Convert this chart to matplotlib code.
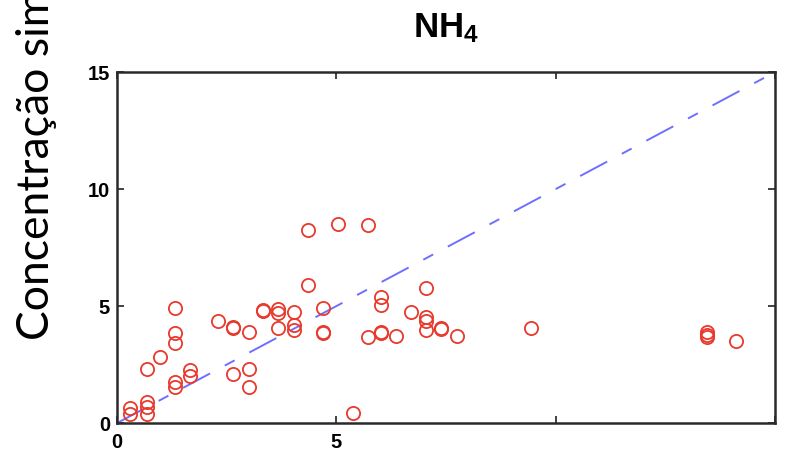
import matplotlib.pyplot as plt

plt.rcParams['mathtext.fontset'] = 'custom'
plt.rcParams['mathtext.bf'] = 'Liberation Sans:bold'
plt.rcParams['lines.scale_dashes'] = False

# observed vs simulated NH4
x_obs = [0.30, 0.30, 0.69, 0.69, 0.69, 0.69, 0.98,
         1.33, 1.33, 1.33, 1.33, 1.33, 1.67, 1.67, 2.31,
         2.65, 2.65, 2.65, 3.00, 3.00, 3.00, 3.34, 3.34,
         3.68, 3.68, 3.68, 4.03, 4.03, 4.03, 4.35, 4.35,
         4.69, 4.69, 4.69, 5.03, 5.38, 5.72, 5.72,
         6.02, 6.02, 6.02, 6.02, 6.36, 6.70,
         7.05, 7.05, 7.05, 7.05, 7.39, 7.39, 7.76, 9.43,
         13.46, 13.46, 13.46, 14.12]
y_sim = [0.64, 0.38, 0.90, 0.68, 0.38, 2.31, 2.82,
         4.91, 3.85, 3.42, 1.75, 1.54, 2.26, 2.00, 4.36,
         4.06, 4.09, 2.09, 3.89, 2.31, 1.54, 4.79, 4.83,
         4.87, 4.70, 4.06, 4.74, 4.19, 3.97, 8.25, 5.90,
         4.91, 3.85, 3.88, 8.50, 0.43, 8.46, 3.68,
         5.38, 5.04, 3.85, 3.88, 3.72, 4.74,
         5.77, 4.53, 4.36, 3.97, 4.02, 4.06, 3.72, 4.06,
         3.89, 3.78, 3.68, 3.50]
line_1to1 = [0, 15]
ticks = [0, 5, 10, 15]
xtick_labels = ['0', '5', '', '']
ytick_labels = ['0', '5', '10', '15']

fig = plt.figure(figsize=(7.85, 4.54), dpi=100)
ax = fig.add_axes([0.149, 0.068, 0.838, 0.773])

ax.plot(line_1to1, line_1to1, color='#6f6fff', lw=1.4, dashes=(22, 12, 8, 12))
ax.plot(x_obs, y_sim, 'o', mfc='none', mec='#e8392c', ms=9.5, mew=1.3)

ax.set_xlim(0, 15)
ax.set_ylim(0, 15)
ax.set_xticks(ticks)
ax.set_yticks(ticks)
ax.set_xticklabels(xtick_labels)
ax.set_yticklabels(ytick_labels)
for lab in ax.get_xticklabels() + ax.get_yticklabels():
    lab.set_fontfamily('Liberation Sans')
    lab.set_fontweight('bold')
    lab.set_fontsize(14.5)
ax.tick_params(direction='in', length=5, width=1.3, top=True, right=True,
               color='#333333')
ax.tick_params(axis='x', pad=7)
ax.tick_params(axis='y', pad=5)
for s in ax.spines.values():
    s.set_linewidth(1.8)
    s.set_color('#2a2a2a')

ax.set_title(r'$\mathbf{NH_4}$', fontsize=25, pad=25)

fig.text(0.047, 0.25, 'Concentração simulada', rotation=90, family='Lato',
         fontsize=32, ha='center', va='bottom')

plt.savefig('out.png', dpi=100)
